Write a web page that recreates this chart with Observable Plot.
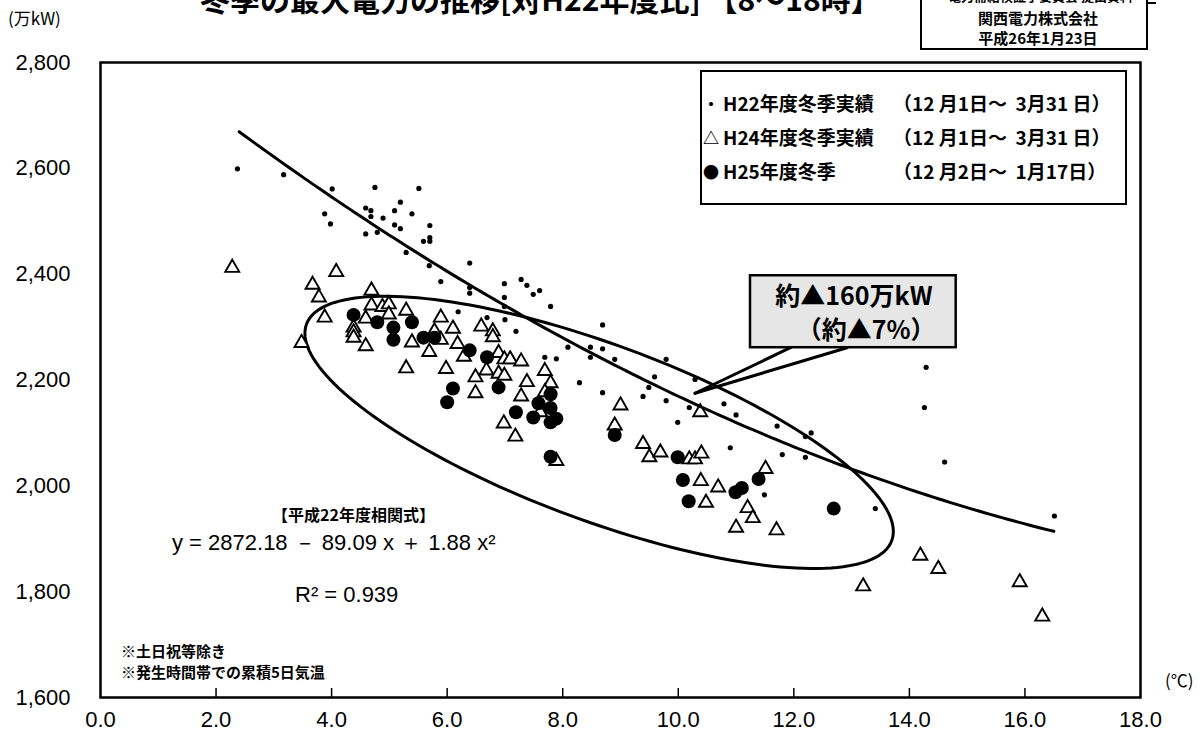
<!DOCTYPE html>
<html><head><meta charset="utf-8">
<script src="https://cdn.jsdelivr.net/npm/d3@7"></script>
<script src="https://cdn.jsdelivr.net/npm/@observablehq/plot@0.6"></script>
<style>
body{margin:0;background:#fff;}
#wrap{position:relative;width:1203px;height:749px;overflow:hidden;font-family:"Noto Sans CJK JP",sans-serif;color:#000;}
.abs{position:absolute;white-space:pre;}
</style></head><body><div id="wrap"></div>
<script>
// ---- data (temperature °C, max demand 万kW) ----
const h22Temp = [2.37,3.17,3.88,3.98,4.01,4.59,4.68,4.68,4.75,4.89,5.19,5.09,5.39,5.09,5.19,4.59,4.79,5.51,5.70,5.70,5.59,5.70,5.29,5.69,5.89,6.39,6.99,7.28,7.38,7.49,7.60,6.39,6.39,6.99,6.99,7.79,6.19,6.69,7.00,7.19,8.69,8.09,8.48,8.48,8.69,8.90,7.69,7.89,8.29,8.69,9.79,10.29,9.59,9.49,9.39,9.79,10.19,9.99,10.79,11.00,10.90,11.71,12.20,12.30,11.80,12.20,11.49,13.41,14.29,14.26,14.61,16.51];
const h22Load = [2599,2588,2514,2495,2561,2525,2520,2509,2564,2506,2536,2520,2514,2493,2486,2476,2479,2562,2492,2469,2462,2462,2441,2416,2386,2421,2382,2390,2379,2362,2369,2375,2364,2356,2339,2339,2329,2318,2314,2292,2304,2262,2262,2243,2259,2239,2243,2240,2195,2176,2239,2201,2206,2186,2169,2161,2148,2120,2155,2134,2072,2113,2093,2100,2059,2054,1983,1957,2224,2148,2045,1943];

const h24Temp = [2.28,4.08,3.67,3.78,4.69,4.69,4.88,4.99,4.99,5.29,3.88,4.59,4.38,4.38,4.38,5.89,6.10,5.78,5.39,4.59,3.48,5.69,5.89,6.18,5.29,6.29,6.59,6.79,6.79,6.89,6.99,7.09,7.28,5.98,6.49,6.68,6.89,6.99,6.49,7.38,7.69,7.79,7.28,7.69,6.98,7.18,7.61,9.00,8.90,7.89,9.39,9.50,9.69,10.19,10.29,10.40,10.38,10.39,10.69,10.48,11.51,11.20,11.29,11.00,11.70,14.19,14.50,13.20,15.91,16.30];
const h24Load = [2412,2404,2380,2356,2369,2341,2338,2343,2324,2331,2318,2316,2299,2290,2280,2318,2297,2292,2271,2264,2270,2253,2276,2268,2222,2244,2301,2292,2281,2251,2239,2239,2235,2221,2205,2218,2212,2208,2175,2196,2217,2194,2169,2177,2118,2093,2139,2152,2114,2047,2079,2054,2063,2050,2050,2061,2139,2009,1997,1968,2032,1958,1939,1921,1916,1868,1843,1810,1818,1753];

const h25Temp = [4.38,4.79,5.07,5.07,5.39,5.59,5.78,6.39,6.69,6.10,6.89,6.00,7.19,7.58,7.79,7.79,7.49,7.79,7.89,8.90,7.79,9.99,10.08,10.18,10.99,11.10,11.39,12.69];
const h25Load = [2323,2309,2299,2276,2309,2280,2280,2256,2243,2184,2186,2158,2139,2156,2173,2147,2129,2120,2127,2096,2055,2054,2011,1971,1988,1996,2013,1957];

const xTicks = [0,2,4,6,8,10,12,14,16,18];
const yTicks = [1600,1800,2000,2200,2400,2600,2800];

// H22 regression (as printed on the chart): y = 2872.18 - 89.09x + 1.88x^2, drawn over 2.4–16.5 °C
const coef = [2872.18, -89.09, 1.88];
const fitRange = [2.4, 16.5];

// annotation shapes
const ellipseSpec = {cx: 8.63, cy: 2101, aPx: 312, bPx: 88, rotDeg: 20.3};
const calloutBox = {x1: 11.25, x2: 14.81, y1: 2261, y2: 2397};
const calloutApex = {x: 10.29, y: 2175};
const calloutBase = [11.94, 12.92];

// ---- layout ----
const W = 1203, H = 749, mL = 100, mR = 63, mT = 62, mB = 52;
const kx = (W - mL - mR) / 18, ky = (H - mT - mB) / 1200;

const pts = (xs, ys) => xs.map((x, i) => ({x, y: ys[i]}));
const h22 = pts(h22Temp, h22Load), h24 = pts(h24Temp, h24Load), h25 = pts(h25Temp, h25Load);

const fit = d3.range(fitRange[0], fitRange[1] + 1e-9, 0.1).map(x => ({x, y: coef[0] + coef[1]*x + coef[2]*x*x}));

const phi = ellipseSpec.rotDeg * Math.PI / 180;
const ellipse = d3.range(0, 361, 2).map(t => {
  const r = t * Math.PI / 180;
  const dx = ellipseSpec.aPx*Math.cos(r)*Math.cos(phi) - ellipseSpec.bPx*Math.sin(r)*Math.sin(phi);
  const dy = ellipseSpec.aPx*Math.cos(r)*Math.sin(phi) + ellipseSpec.bPx*Math.sin(r)*Math.cos(phi);
  return {x: ellipseSpec.cx + dx/kx, y: ellipseSpec.cy - dy/ky};
});

const pointer = [
  [{x: calloutBase[0], y: calloutBox.y1}, calloutApex],
  [{x: calloutBase[1], y: calloutBox.y1}, calloutApex]
];

const jp = "'Noto Sans CJK JP', sans-serif";

const plot = Plot.plot({
  width: W, height: H, marginLeft: mL, marginRight: mR, marginTop: mT, marginBottom: mB,
  style: {fontFamily: "'Liberation Sans Narrow','Liberation Sans',Arial,sans-serif", fontSize: "22px", background: "transparent", color: "black"},
  x: {domain: [0, 18]},
  y: {domain: [1600, 2800]},
  marks: [
    Plot.axisY({ticks: yTicks, tickSize: 0, tickPadding: 30, tickFormat: d3.format(","), label: null, fontSize: 22}),
    Plot.axisX({ticks: xTicks, tickSize: 0, tickPadding: 14, tickFormat: d3.format(".1f"), label: null, fontSize: 22}),
    Plot.ruleX(xTicks.slice(1, -1), {x: d => d, y1: 1600, y2: 1617, stroke: "black", strokeWidth: 1.5}),
    Plot.line(ellipse, {x: "x", y: "y", stroke: "black", strokeWidth: 3}),
    Plot.dot(h22, {x: "x", y: "y", r: 2.6, fill: "black", stroke: "none"}),
    Plot.dot(h24, {x: "x", y: "y", symbol: "triangle", r: 5.2, fill: "white", stroke: "black", strokeWidth: 1.9}),
    Plot.dot(h25, {x: "x", y: "y", r: 7, fill: "black", stroke: "none"}),
    Plot.line(fit, {x: "x", y: "y", stroke: "black", strokeWidth: 3}),
    Plot.line(pointer[0], {x: "x", y: "y", stroke: "black", strokeWidth: 3}),
    Plot.line(pointer[1], {x: "x", y: "y", stroke: "black", strokeWidth: 3}),
    Plot.rect([calloutBox], {x1: "x1", x2: "x2", y1: "y1", y2: "y2", fill: "#e6e6e6", stroke: "black", strokeWidth: 2.5}),
    Plot.text(["約▲160万kW"], {x: 13.04, y: 2357, text: d => d, fontSize: 25, fontWeight: "bold", fontFamily: jp}),
    Plot.text(["（約▲7%）"], {x: 13.25, y: 2292, text: d => d, fontSize: 25, fontWeight: "bold", fontFamily: jp}),
    Plot.frame({stroke: "black", strokeWidth: 2.5})
  ]
});

const wrap = document.getElementById("wrap");
plot.style.position = "absolute"; plot.style.left = "0"; plot.style.top = "0";
wrap.appendChild(plot);

function add(html, css) {
  const d = document.createElement("div");
  d.className = "abs"; d.innerHTML = html;
  Object.assign(d.style, css);
  wrap.appendChild(d);
  return d;
}
// title (top clipped as in the scan)
add("冬季の最大電力の推移[対H22年度比] 【8～18時】", {left: "200px", top: "-17px", fontSize: "30px", lineHeight: "30px", fontWeight: "bold"});
// source box
add("", {left: "920px", top: "-4px", width: "224px", height: "50px", border: "2px solid black", background: "white"});
add("", {left: "1146px", top: "2px", width: "10px", height: "0", borderTop: "2px solid black"});
add("電力需給検証小委員会 提出資料", {left: "948px", top: "-11px", fontSize: "13px", lineHeight: "13px", fontWeight: "bold"});
add("関西電力株式会社", {left: "968px", top: "9px", fontSize: "15px", lineHeight: "17px", fontWeight: "bold", width: "140px", textAlign: "center"});
add("平成26年1月23日", {left: "968px", top: "29px", fontSize: "15px", lineHeight: "17px", fontWeight: "bold", width: "140px", textAlign: "center"});
// units
add("(万kW)", {left: "8px", top: "8px", fontSize: "17px", lineHeight: "20px"});
add("(℃)", {left: "1165px", top: "670px", fontSize: "17px", lineHeight: "20px"});
// legend
add("", {left: "700px", top: "70px", width: "423px", height: "131px", border: "2px solid black", background: "white"});
const rows = [
  ["・", "H22年度冬季実績", "（12 月1日～  3月31 日）", 103],
  ["△", "H24年度冬季実績", "（12 月1日～  3月31 日）", 137],
  ["●", "H25年度冬季", "（12 月2日～  1月17日）", 171]
];
rows.forEach(([m, a, b, y]) => {
  add(m, {left: "703px", top: (y - 11) + "px", fontSize: "16px", lineHeight: "22px", fontWeight: "bold"});
  add(a, {left: "723px", top: (y - 11) + "px", fontSize: "19px", lineHeight: "22px", fontWeight: "bold"});
  add(b, {left: "893px", top: (y - 11) + "px", fontSize: "19px", lineHeight: "22px", fontWeight: "bold"});
});
// regression text
add("【平成22年度相関式】", {left: "272px", top: "504px", fontSize: "16px", lineHeight: "20px", fontWeight: "bold"});
add("y = 2872.18 － 89.09 x ＋ 1.88 x²", {left: "172px", top: "530px", fontSize: "22px", lineHeight: "26px", fontFamily: "'Liberation Sans',Arial,sans-serif"});
add("R² = 0.939", {left: "295px", top: "582px", fontSize: "22px", lineHeight: "26px", fontFamily: "'Liberation Sans',Arial,sans-serif"});
add("※土日祝等除き", {left: "121px", top: "642px", fontSize: "15px", lineHeight: "18px", fontWeight: "bold"});
add("※発生時間帯での累積5日気温", {left: "121px", top: "663px", fontSize: "15px", lineHeight: "18px", fontWeight: "bold"});
</script></body></html>
